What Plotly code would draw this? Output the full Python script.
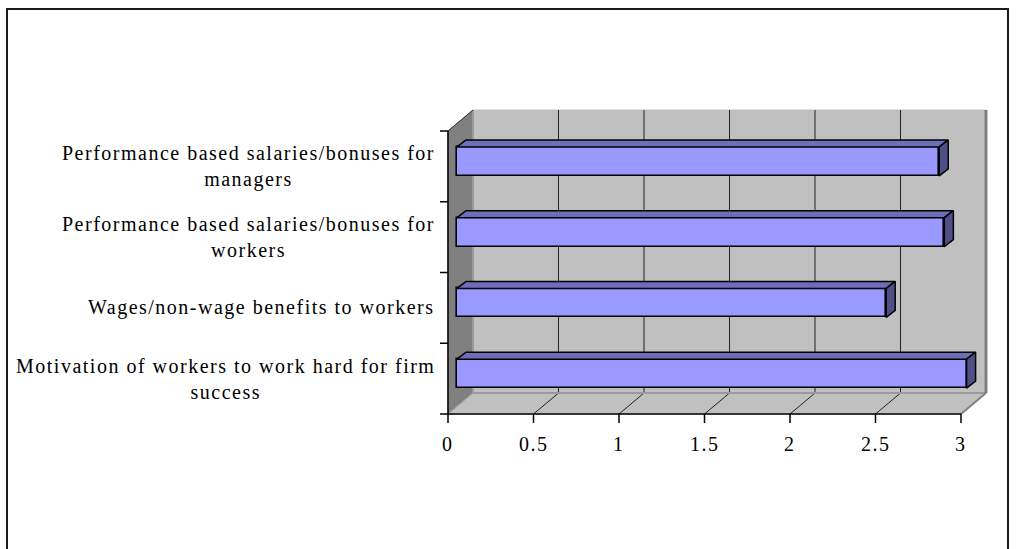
import plotly.graph_objects as go

# ---- data (top to bottom as shown) ----
categories = [
    "Performance based salaries/bonuses for\nmanagers",
    "Performance based salaries/bonuses for\nworkers",
    "Wages/non-wage benefits to workers",
    "Motivation of workers to work hard for firm\nsuccess",
]
values = [2.82, 2.85, 2.51, 2.98]
x_ticks = [0, 0.5, 1, 1.5, 2, 2.5, 3]
x_tick_labels = ["0", "0.5", "1", "1.5", "2", "2.5", "3"]

# ---- layout geometry (pixels -> axis units) ----
W, H = 1016, 549
PX0, PXU = 448, 171.0          # pixel of value 0, pixels per unit (front plane)
PYB, PYU = 414, 70.75          # pixel of bottom axis, pixels per category
n = len(categories)
x_range = [-PX0 / PXU, (W - PX0) / PXU]
y_range = [-0.5 - (H - PYB) / PYU, -0.5 + PYB / PYU]

wdx, wdy = 25 / PXU, 21 / PYU   # wall depth offset
bdx, bdy = 9 / PXU, 5 / PYU     # bar plane offset
tdx, tdy = 9 / PXU, 7 / PYU     # bar thickness (depth)
bar_h = 29 / PYU
xmax = x_ticks[-1]
ylo, yhi = -0.5, n - 0.5

FONT = "Liberation Serif, Times New Roman, serif"
LS = "letter-spacing:1.5px"

def spaced(txt):
    return "<br>".join(f"<span style='{LS}'>{ln}</span>" for ln in txt.split("\n"))

shapes = []
def poly(pts, fill, line="#808080", lw=1):
    path = "M " + " L ".join(f"{x},{y}" for x, y in pts) + " Z"
    shapes.append(dict(type="path", path=path, xref="x", yref="y", fillcolor=fill,
                       line=dict(color=line, width=lw), layer="below"))

def seg(x0, y0, x1, y1, color="#000000", lw=1):
    shapes.append(dict(type="line", x0=x0, y0=y0, x1=x1, y1=y1, xref="x", yref="y",
                       line=dict(color=color, width=lw), layer="below"))

# back wall
poly([(wdx, ylo + wdy), (wdx, yhi + wdy), (xmax + wdx, yhi + wdy), (xmax + wdx, ylo + wdy)], "#c0c0c0", "#c0c0c0", 1)
# side wall
poly([(0, ylo), (0, yhi), (wdx, yhi + wdy), (wdx, ylo + wdy)], "#808080", "#808080", 1)
# floor
poly([(0, ylo), (xmax, ylo), (xmax + wdx, ylo + wdy), (wdx, ylo + wdy)], "#c0c0c0", "#c0c0c0", 1)
# gridlines on back wall and floor
for v in x_ticks[1:-1]:
    seg(v + wdx, ylo + wdy, v + wdx, yhi + wdy, "#222222", 1)
    seg(v, ylo, v + wdx, ylo + wdy, "#222222", 1)
# wall edges
seg(wdx, ylo + wdy, wdx, yhi + wdy, "#9a9a9a", 2)
seg(wdx, ylo + wdy, xmax + wdx, ylo + wdy, "#9a9a9a", 2)
seg(xmax + wdx, ylo + wdy, xmax + wdx, yhi + wdy, "#808080", 3)
seg(xmax, ylo, xmax + wdx, ylo + wdy, "#808080", 2)
seg(0, ylo, wdx, ylo + wdy, "#9a9a9a", 1)
seg(0, yhi, wdx, yhi + wdy, "#333333", 1)
# axes lines and ticks
seg(0, ylo, 0, yhi, "#000000", 1.5)
seg(0, ylo, xmax, ylo, "#000000", 1.5)
for k in range(n + 1):
    seg(-8 / PXU, ylo + k, 0, ylo + k, "#000000", 1.5)
for v in x_ticks:
    seg(v, ylo, v, ylo - 9 / PYU, "#000000", 1.5)
# outer frame
shapes.append(dict(type="rect", xref="paper", yref="paper", x0=7 / W, x1=1008 / W,
                   y0=-0.2, y1=1 - 9 / H, line=dict(color="#1a1a1a", width=2),
                   fillcolor="rgba(0,0,0,0)", layer="below"))

pos = [n - 1 - i for i in range(n)]
fig = go.Figure()

# bar front faces
fig.add_trace(go.Bar(
    x=values, y=[p + bdy for p in pos], base=bdx, orientation="h", width=bar_h,
    marker=dict(color="#9999ff", line=dict(color="#000000", width=1.6)),
    hoverinfo="skip", showlegend=False))

# bar top and side faces
for v, p in zip(values, pos):
    yc = p + bdy
    yt, yb = yc + bar_h / 2, yc - bar_h / 2
    x0, x1 = bdx, bdx + v
    fig.add_trace(go.Scatter(
        x=[x0, x0 + tdx, x1 + tdx, x1, x0], y=[yt, yt + tdy, yt + tdy, yt, yt],
        fill="toself", fillcolor="#6d6db8", mode="lines",
        line=dict(color="#000000", width=1.5), hoverinfo="skip", showlegend=False))
    fig.add_trace(go.Scatter(
        x=[x1, x1 + tdx, x1 + tdx, x1, x1], y=[yt, yt + tdy, yb + tdy, yb, yt],
        fill="toself", fillcolor="#4f4f88", mode="lines",
        line=dict(color="#000000", width=1.5), hoverinfo="skip", showlegend=False))

annotations = []
for lab, p in zip(categories, pos):
    annotations.append(dict(x=-11 / PXU, y=p, xref="x", yref="y", text=spaced(lab),
                            xanchor="right", yanchor="middle", align="center",
                            showarrow=False, font=dict(family=FONT, size=20, color="#000000")))
for v, t in zip(x_ticks, x_tick_labels):
    annotations.append(dict(x=v, y=ylo - 30 / PYU, xref="x", yref="y", text=spaced(t),
                            xanchor="center", yanchor="middle", showarrow=False,
                            font=dict(family=FONT, size=20, color="#000000")))

fig.update_layout(
    width=W, height=H, autosize=False,
    margin=dict(l=0, r=0, t=0, b=0),
    paper_bgcolor="#ffffff", plot_bgcolor="#ffffff",
    xaxis=dict(range=x_range, visible=False, fixedrange=True),
    yaxis=dict(range=y_range, visible=False, fixedrange=True),
    shapes=shapes, annotations=annotations, bargap=0,
)
fig.write_html("out.html", config={"displayModeBar": False},
               post_script="document.body.style.margin='0';document.body.style.overflow='hidden';")
